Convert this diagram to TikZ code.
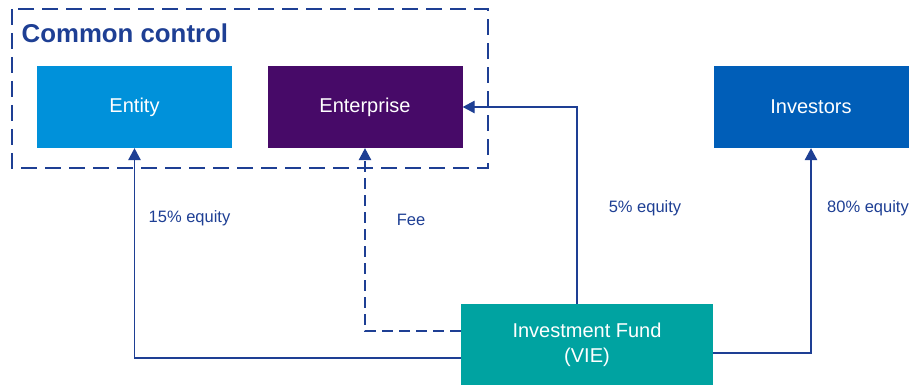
\documentclass[tikz,border=0pt]{standalone}
\usepackage{fontspec}
\setmainfont{Liberation Sans}
\usetikzlibrary{arrows.meta}
\definecolor{kblue}{HTML}{1E3F94}
\definecolor{entityblue}{HTML}{0091DA}
\definecolor{enterprisepurple}{HTML}{470A68}
\definecolor{investorblue}{HTML}{005EB8}
\definecolor{fundgreen}{HTML}{00A3A1}

\tikzset{
  party/.style={minimum width=195pt, minimum height=82pt, inner sep=0pt,
    text=white, font=\fontsize{20}{25}\selectfont, align=center},
  flow/.style={kblue, line width=1.4pt, -{Triangle[length=12pt,width=12.5pt]}},
  tag/.style={kblue, font=\fontsize{16.5}{20}\selectfont, inner sep=0pt}
}

\begin{document}
\begin{tikzpicture}[x=1pt, y=-1pt]
            \useasboundingbox (0,0) rectangle (913,385);
            \draw[kblue, line width=1.4pt, dash pattern=on 16pt off 8pt] (12,9) rectangle (488,168);
            \node[kblue, anchor=base west, inner sep=0pt, font=\fontsize{25.8}{30}\selectfont\bfseries] (title) at (21.5,42.5) {Common control};

            \node[party, fill=entityblue] (entity) at (134.5,107) {Entity};
            \node[party, fill=enterprisepurple] (enterprise) at (365,107) {Enterprise};
            \node[party, fill=investorblue] (investors) at (811,107) {Investors};
            \node[party, fill=fundgreen, minimum width=252pt, minimum height=81pt] (fund) at (587,344.5) {Investment Fund\\(VIE)};

            \draw[flow] ([yshift=-13.5pt]fund.west) -| (entity.south);
            \draw[flow, dash pattern=on 11pt off 6pt] ([yshift=13.5pt]fund.west) -| (enterprise.south);
            \draw[flow] ([xshift=-10pt]fund.north) |- (enterprise.east);
            \draw[flow] ([yshift=-8.5pt]fund.east) -| (investors.south);

            \node[tag] (equity15) at (189.5,218) {15\% equity};
            \node[tag] (fee) at (411,220) {Fee};
            \node[tag] (equity5) at (645,208) {5\% equity};
            \node[tag] (equity80) at (868,208) {80\% equity};
\end{tikzpicture}
\end{document}
